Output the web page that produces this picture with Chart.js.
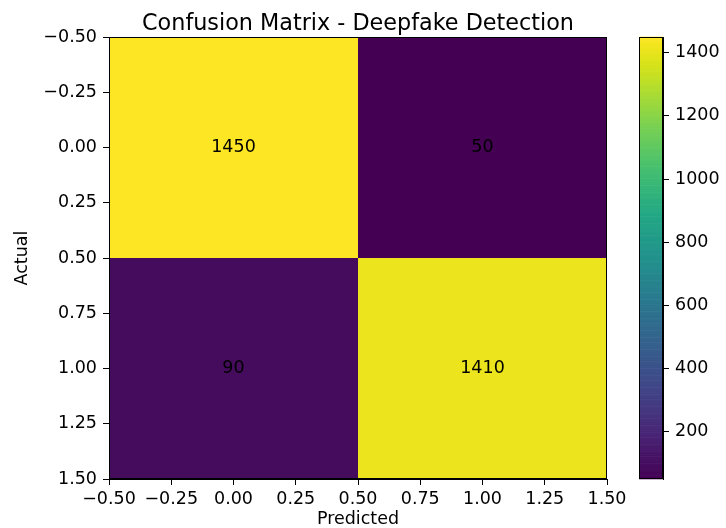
<!DOCTYPE html>
<html>
<head>
<meta charset="utf-8">
<script src="https://cdn.jsdelivr.net/npm/chart.js@4.4.1/dist/chart.umd.min.js"></script>
<style>
  html, body { margin: 0; padding: 0; background: #ffffff; }
  #wrap { position: relative; width: 726px; height: 528px; background: #ffffff; }
  #wrap canvas { position: absolute; left: 0; top: 0; }
</style>
</head>
<body>
<div id="wrap">
  <canvas id="main" width="726" height="528"></canvas>
  <canvas id="cbar" width="726" height="528"></canvas>
</div>
<script>
// ---------------- data ----------------
const predictedCats = [0, 1];          // columns (x)
const actualCats = [0, 1];             // rows (y)
const rowActual0 = [1450, 50];
const rowActual1 = [90, 1410];
const matrixRows = [rowActual0, rowActual1];
const xTickValues = [-0.5, -0.25, 0, 0.25, 0.5, 0.75, 1, 1.25, 1.5];
const yTickValues = [-0.5, -0.25, 0, 0.25, 0.5, 0.75, 1, 1.25, 1.5];
const colorbarTicks = [200, 400, 600, 800, 1000, 1200, 1400];
const titleText = 'Confusion Matrix - Deepfake Detection';
const xTitle = 'Predicted';
const yTitle = 'Actual';

// ---------------- colour map (viridis) ----------------
const viridisStops = [
  [0.0, '#440154'], [0.1, '#482475'], [0.2, '#414487'], [0.3, '#355f8d'],
  [0.4, '#2a788e'], [0.5, '#21918c'], [0.6, '#22a884'], [0.7, '#44bf70'],
  [0.8, '#7ad151'], [0.9, '#bddf26'], [0.94, '#d8e219'], [0.98, '#f1e51d'], [1.0, '#fde725']
];
function hexToRgb(h) { return [parseInt(h.slice(1,3),16), parseInt(h.slice(3,5),16), parseInt(h.slice(5,7),16)]; }
function viridis(t) {
  t = Math.max(0, Math.min(1, t));
  for (let i = 0; i < viridisStops.length - 1; i++) {
    const [t0, c0] = viridisStops[i], [t1, c1] = viridisStops[i + 1];
    if (t <= t1) {
      const f = (t - t0) / (t1 - t0);
      const a = hexToRgb(c0), b = hexToRgb(c1);
      return 'rgb(' + a.map((v, k) => Math.round(v + (b[k] - v) * f)).join(',') + ')';
    }
  }
  return viridisStops[viridisStops.length - 1][1];
}
const allVals = matrixRows.flat();
const vMin = Math.min(...allVals);
const vMax = Math.max(...allVals);
const norm = v => (v - vMin) / (vMax - vMin);

const fmt = v => Number(v).toFixed(2).replace('-', '\u2212');

Chart.defaults.font.family = 'DejaVu Sans';
Chart.defaults.color = '#000000';

const FS = 17.5;

// cell points
const cellPoints = [];
actualCats.forEach((r, ri) => predictedCats.forEach((c, ci) => cellPoints.push({ x: c, y: r, v: matrixRows[ri][ci] })));

const heatmapPlugin = {
  id: 'heatmap',
  beforeDatasetsDraw(chart) {
    const { ctx, scales: { x, y } } = chart;
    ctx.save();
    chart.data.datasets[0].data.forEach(p => {
      const l = x.getPixelForValue(p.x - 0.5), r = x.getPixelForValue(p.x + 0.5);
      const t = y.getPixelForValue(p.y - 0.5), b = y.getPixelForValue(p.y + 0.5);
      ctx.fillStyle = viridis(norm(p.v));
      ctx.fillRect(Math.min(l, r), Math.min(t, b), Math.abs(r - l), Math.abs(b - t));
    });
    ctx.restore();
  },
  afterDatasetsDraw(chart) {
    const { ctx, scales: { x, y }, chartArea: a } = chart;
    ctx.save();
    ctx.fillStyle = '#000000';
    ctx.font = FS + 'px "DejaVu Sans"';
    ctx.textAlign = 'center';
    ctx.textBaseline = 'middle';
    chart.data.datasets[0].data.forEach(p => {
      ctx.fillText(String(p.v), x.getPixelForValue(p.x), y.getPixelForValue(p.y));
    });
    ctx.strokeStyle = '#000000';
    ctx.lineWidth = 1;
    ctx.strokeRect(Math.round(a.left) + 0.5, Math.round(a.top) + 0.5, Math.round(a.right - a.left) - 1, Math.round(a.bottom - a.top) - 1);
    // title centred over the axes
    ctx.font = '22.3px "DejaVu Sans"';
    ctx.textAlign = 'center';
    ctx.textBaseline = 'alphabetic';
    ctx.fillText(titleText, (a.left + a.right) / 2, a.top - 7);
    ctx.restore();
  }
};

new Chart(document.getElementById('main'), {
  type: 'scatter',
  data: { datasets: [{ data: cellPoints, pointRadius: 0, pointHoverRadius: 0 }] },
  plugins: [heatmapPlugin],
  options: {
    responsive: false,
    animation: false,
    devicePixelRatio: 1,
    events: [],
    layout: { padding: { left: 0, right: 119, top: 37, bottom: 0 } },
    plugins: {
      legend: { display: false },
      tooltip: { enabled: false },
      title: { display: false }
    },
    scales: {
      x: {
        type: 'linear', min: -0.5, max: 1.5, position: 'bottom',
        afterBuildTicks: s => { s.ticks = xTickValues.map(v => ({ value: v })); },
        afterFit: s => { s.height = 49; },
        ticks: { callback: v => fmt(v), autoSkip: false, maxRotation: 0, minRotation: 0, padding: 4, font: { size: FS }, color: '#000000' },
        grid: { display: true, drawOnChartArea: false, drawTicks: true, tickLength: 6, color: '#000000', tickColor: '#000000' },
        border: { display: true, color: '#000000', width: 1 },
        title: { display: true, text: xTitle, color: '#000000', font: { size: FS, lineHeight: 1.0 }, padding: { top: 0, bottom: 0 } }
      },
      y: {
        type: 'linear', min: -0.5, max: 1.5, reverse: true, position: 'left',
        afterBuildTicks: s => { s.ticks = yTickValues.map(v => ({ value: v })); },
        afterFit: s => { s.width = 109; },
        ticks: { callback: v => fmt(v), autoSkip: false, padding: 6, font: { size: FS }, color: '#000000' },
        grid: { display: true, drawOnChartArea: false, drawTicks: true, tickLength: 6, color: '#000000', tickColor: '#000000' },
        border: { display: true, color: '#000000', width: 1 },
        title: { display: true, text: yTitle, color: '#000000', font: { size: FS }, padding: { top: 12, bottom: 0 } }
      }
    }
  }
});

// ---------------- colour bar ----------------
const colorbarPlugin = {
  id: 'colorbar',
  beforeDatasetsDraw(chart) {
    const { ctx, chartArea: a, scales: { y } } = chart;
    ctx.save();
    const steps = 256;
    for (let i = 0; i < steps; i++) {
      const v0 = vMin + (vMax - vMin) * i / steps;
      const v1 = vMin + (vMax - vMin) * (i + 1) / steps;
      const p0 = y.getPixelForValue(v0), p1 = y.getPixelForValue(v1);
      ctx.fillStyle = viridis((i + 0.5) / steps);
      ctx.fillRect(a.left, Math.min(p0, p1) - 0.3, a.right - a.left, Math.abs(p1 - p0) + 0.6);
    }
    ctx.strokeStyle = '#000000';
    ctx.lineWidth = 1;
    ctx.strokeRect(Math.round(a.left) + 0.5, Math.round(a.top) + 0.5, Math.round(a.right - a.left) - 1, Math.round(a.bottom - a.top) - 1);
    ctx.restore();
  }
};

new Chart(document.getElementById('cbar'), {
  type: 'scatter',
  data: { datasets: [{ data: [{ x: 0, y: vMin }, { x: 0, y: vMax }], pointRadius: 0, pointHoverRadius: 0 }] },
  plugins: [colorbarPlugin],
  options: {
    responsive: false,
    animation: false,
    devicePixelRatio: 1,
    events: [],
    layout: { padding: { left: 639, right: 0, top: 37, bottom: 49 } },
    plugins: { legend: { display: false }, tooltip: { enabled: false }, title: { display: false } },
    scales: {
      x: { type: 'linear', min: 0, max: 1, display: false },
      y: {
        type: 'linear', min: vMin, max: vMax, position: 'right',
        afterBuildTicks: s => { s.ticks = colorbarTicks.map(v => ({ value: v })); },
        afterFit: s => { s.width = 63; },
        ticks: { autoSkip: false, padding: 6, font: { size: FS }, color: '#000000', callback: v => String(v) },
        grid: { display: true, drawOnChartArea: false, drawTicks: true, tickLength: 6, color: '#000000', tickColor: '#000000' },
        border: { display: true, color: '#000000', width: 1 }
      }
    }
  }
});
</script>
</body>
</html>
